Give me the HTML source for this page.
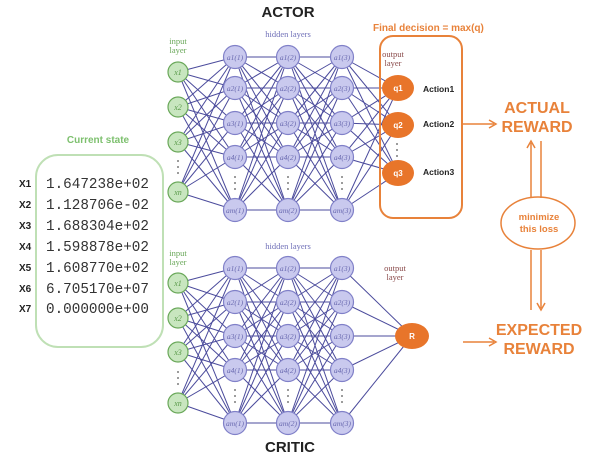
<!DOCTYPE html>
<html><head><meta charset="utf-8"><style>
html,body{margin:0;padding:0;background:#fff;width:600px;height:460px;overflow:hidden}
</style></head><body>
<svg id="s" width="600" height="460" xmlns="http://www.w3.org/2000/svg" font-family="Liberation Sans, sans-serif">
<g id="lines" stroke="#4b4b9c" stroke-width="1" fill="none"></g>
<g id="nodes"></g>
<text x="288" y="17" text-anchor="middle" font-weight="bold" font-size="15" fill="#222">ACTOR</text>
<text x="290" y="452" text-anchor="middle" font-weight="bold" font-size="15" fill="#222">CRITIC</text>
<g font-family="Liberation Serif, serif" font-size="8.5" text-anchor="middle">
<text x="178" y="44" fill="#6aa85a">input</text><text x="178" y="53" fill="#6aa85a">layer</text>
<text x="288" y="37" fill="#7070b8">hidden layers</text>
<text x="393" y="57" fill="#8a4a4a">output</text><text x="393" y="66" fill="#8a4a4a">layer</text>
<text x="178" y="256" fill="#6aa85a">input</text><text x="178" y="265" fill="#6aa85a">layer</text>
<text x="288" y="249" fill="#7070b8">hidden layers</text>
<text x="395" y="271" fill="#8a4a4a">output</text><text x="395" y="280" fill="#8a4a4a">layer</text>
</g>
<text x="98" y="143" text-anchor="middle" font-weight="bold" font-size="10" fill="#7dc06e">Current state</text>
<rect x="36" y="155" width="127" height="192" rx="22" fill="none" stroke="#bfe0b5" stroke-width="2"/>
<g font-weight="bold" font-size="10" fill="#222">
<text x="19" y="187">X1</text><text x="19" y="208">X2</text><text x="19" y="229">X3</text><text x="19" y="250">X4</text><text x="19" y="271">X5</text><text x="19" y="292">X6</text><text x="19" y="312">X7</text>
</g>
<g font-family="Liberation Mono, monospace" font-size="14.3" fill="#333">
<text x="46" y="188">1.647238e+02</text><text x="46" y="209">1.128706e-02</text><text x="46" y="230">1.688304e+02</text><text x="46" y="251">1.598878e+02</text><text x="46" y="272">1.608770e+02</text><text x="46" y="293">6.705170e+07</text><text x="46" y="313">0.000000e+00</text>
</g>
<text x="373" y="31" font-weight="bold" font-size="10" fill="#e8823a">Final decision = max(q)</text>
<rect x="380" y="36" width="82" height="182" rx="13" fill="none" stroke="#e8823a" stroke-width="2"/>
<g font-weight="bold" font-size="8.5" fill="#222">
<text x="423" y="92">Action1</text><text x="423" y="127">Action2</text><text x="423" y="175">Action3</text>
</g>
<g fill="#555"><circle cx="397" cy="144" r="0.9"/><circle cx="397" cy="150" r="0.9"/><circle cx="397" cy="156" r="0.9"/></g>
<g fill="#e8823a" font-weight="bold" font-size="16" text-anchor="middle">
<text x="537" y="113">ACTUAL</text><text x="537" y="132">REWARD</text>
<text x="539" y="335">EXPECTED</text><text x="539" y="354">REWARD</text>
</g>
<g stroke="#e8823a" stroke-width="1.5" fill="none">
<line x1="463" y1="124" x2="494" y2="124"/><polyline points="489,120 496,124 489,128"/>
<line x1="463" y1="342" x2="494" y2="342"/><polyline points="489,338 496,342 489,346"/>
<line x1="531" y1="143" x2="531" y2="198"/><polyline points="527,148 531,141 535,148"/>
<line x1="541" y1="141" x2="541" y2="198"/>
<line x1="531" y1="250" x2="531" y2="310"/>
<line x1="541" y1="250" x2="541" y2="308"/><polyline points="537,303 541,310 545,303"/>
<ellipse cx="538" cy="223" rx="37" ry="26"/>
</g>
<g fill="#e8823a" font-weight="bold" font-size="9.5" text-anchor="middle"><text x="539" y="220">minimize</text><text x="539" y="232">this loss</text></g>
</svg>
<script>
var NS="http://www.w3.org/2000/svg",L=document.getElementById('lines'),N=document.getElementById('nodes');
function el(t,a,p){var e=document.createElementNS(NS,t);for(var k in a)e.setAttribute(k,a[k]);p.appendChild(e);return e;}
function net(inY,hY,hX,outs,dotsIn,dotsH){
 var layers=[[178,inY]];hX.forEach(function(x){layers.push([x,hY]);});
 var outL=[outs.x,outs.y];
 var all=layers.concat([outL]);
 for(var i=0;i<all.length-1;i++){var a=all[i],b=all[i+1];
  a[1].forEach(function(y1){b[1].forEach(function(y2){el('line',{x1:a[0],y1:y1,x2:b[0],y2:y2},L);});});}
 inY.forEach(function(y,i){el('circle',{cx:178,cy:y,r:10,fill:'#c8e6bf',stroke:'#6aa85a','stroke-width':1.2},N);
  var t=el('text',{x:178,y:y+3,'text-anchor':'middle','font-size':8,'font-style':'italic','font-family':'Liberation Serif, serif',fill:'#5a9a4a'},N);
  t.textContent='x'+['1','2','3','n'][i];});
 hX.forEach(function(x,l){hY.forEach(function(y,i){el('circle',{cx:x,cy:y,r:11.5,fill:'#c9c9ee',stroke:'#8080c8','stroke-width':1.2},N);
  var t=el('text',{x:x,y:y+3,'text-anchor':'middle','font-size':7.5,'font-style':'italic','font-family':'Liberation Serif, serif',fill:'#6a6ab0'},N);
  t.textContent='a'+['1','2','3','4','m'][i]+'('+(l+1)+')';});
  [0,6,12].forEach(function(d){el('circle',{cx:x,cy:dotsH+d-6,r:0.9,fill:'#555'},N);});});
 [0,6,12].forEach(function(d){el('circle',{cx:178,cy:dotsIn+d-6,r:0.9,fill:'#555'},N);});
 outs.y.forEach(function(y,i){el('ellipse',{cx:outs.x,cy:y,rx:outs.rx,ry:13,fill:'#e8752a'},N);
  var t=el('text',{x:outs.x,y:y+3,'text-anchor':'middle','font-size':8,'font-weight':'bold',fill:'#fff'},N);t.textContent=outs.lab[i];});
}
net([72,107,142,192],[57,88,123,157,210],[235,288,342],{x:398,y:[88,125,173],rx:16,lab:['q1','q2','q3']},167,183);
net([283,318,352,403],[268,302,336,370,423],[235,288,342],{x:412,y:[336],rx:17,lab:['R']},378,396);
</script>
</body></html>
